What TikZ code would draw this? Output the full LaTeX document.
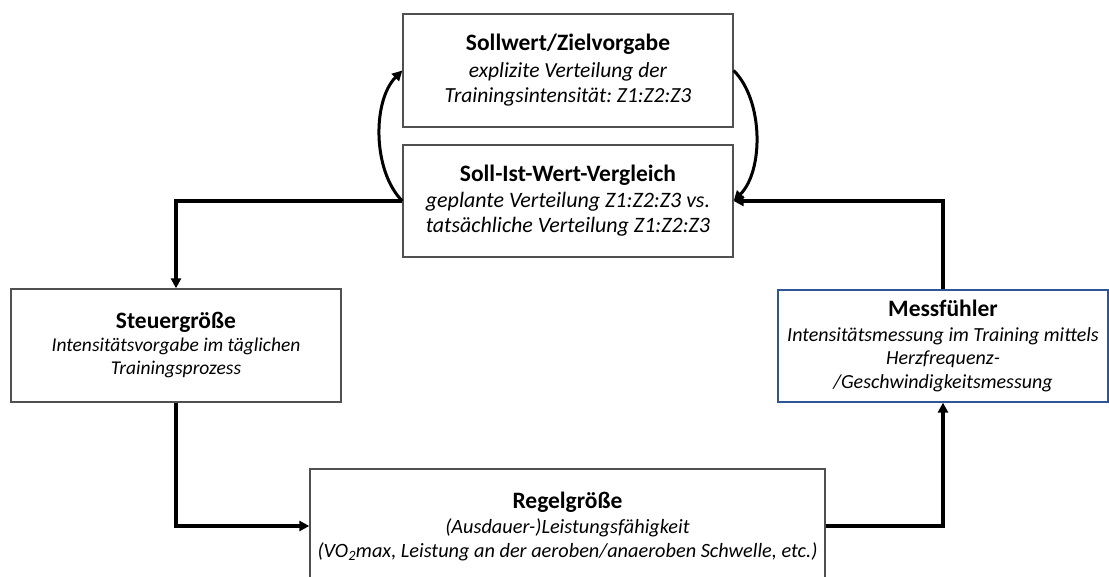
\documentclass[tikz,border=0pt]{standalone}
\usepackage{fontspec}
\setmainfont{Carlito}
\usetikzlibrary{arrows.meta}
\definecolor{boxgray}{RGB}{80,80,80}
\definecolor{boxblue}{RGB}{47,85,151}
\newcommand\ttl[2][2pt]{{\upshape\bfseries\fontsize{23.5}{27}\selectfont #2}\\[#1]}
\frenchspacing
\begin{document}
\begin{tikzpicture}[x=1pt,y=1pt,
  box/.style={draw=boxgray, line width=1.3pt, align=center, inner sep=0pt,
    font=\fontsize{18}{24.5}\selectfont\itshape},
  bluebox/.style={box, draw=boxblue},
  conn/.style={line width=3.5pt, -{Triangle[length=10pt,width=10pt]}},
  curv/.style={line width=3pt, -{Triangle[length=10pt,width=10pt]}},
]
\useasboundingbox (0,0) rectangle (1109,576);
\node[box, minimum width=330, minimum height=113, font=\fontsize{21.5}{25}\selectfont\itshape] (A) at (568,505.5)
  {\ttl{Sollwert/Zielvorgabe}explizite Verteilung der\\Trainingsintensität: Z1:Z2:Z3};
\node[box, minimum width=330, minimum height=112, font=\fontsize{22}{25.5}\selectfont\itshape] (B) at (568,375)
  {\ttl[0pt]{Soll-Ist-Wert-Vergleich}geplante Verteilung Z1:Z2:Z3 vs.\\tatsächliche Verteilung Z1:Z2:Z3};
\node[box, minimum width=330, minimum height=113, font=\fontsize{19.5}{23}\selectfont\itshape] (C) at (176,230.5)
  {\ttl[0pt]{Steuergröße}Intensitätsvorgabe im täglichen\\Trainingsprozess};
\node[bluebox, minimum width=330, minimum height=112, font=\fontsize{20}{23.5}\selectfont\itshape] (D) at (943,230)
  {\ttl[1pt]{Messfühler}Intensitätsmessung im Training mittels\\Herzfrequenz-\\/Geschwindigkeitsmessung};
\node[box, minimum width=515, minimum height=114, font=\fontsize{20.3}{24}\selectfont\itshape] (E) at (567.5,50)
  {\ttl[1pt]{Regelgröße}(Ausdauer-)Leistungsfähigkeit\\(VO\textsubscript{2}max, Leistung an der aeroben/anaeroben Schwelle, etc.)};
\draw[conn] (B.west) -| (C.north);
\draw[conn] (C.south) |- (E.west);
\draw[conn] (E.east) -| (D.south);
\draw[conn] (D.north) |- (B.east);
\draw[curv] (B.west) .. controls +(-30,30) and +(-30,-30) .. (A.west);
\draw[curv] (A.east) .. controls +(30,-30) and +(30,30) .. (B.east);
\end{tikzpicture}
\end{document}
